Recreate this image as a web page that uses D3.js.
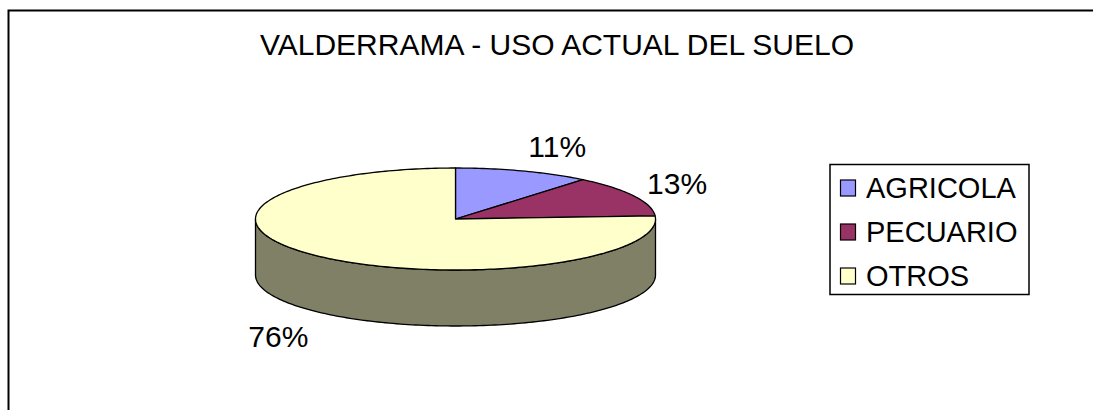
<!DOCTYPE html>
<html><head><meta charset="utf-8">
<script src="https://cdn.jsdelivr.net/npm/d3@7"></script>
<style>html,body{margin:0;padding:0;background:#fff;}svg{display:block;}</style>
</head><body>
<svg id="chart" width="1093" height="410"></svg>
<script>
const title = "VALDERRAMA - USO ACTUAL DEL SUELO";
const categories = ["AGRICOLA", "PECUARIO", "OTROS"];
const values = [11, 13, 76];
const colors = ["#9999FF", "#993366", "#FFFFCC"];
const sideColors = ["#4D4D80", "#4D1A33", "#808066"];

const svg = d3.select("#chart");
const font = "'Liberation Sans', Arial, sans-serif";

svg.append("rect").attr("x", 8.5).attr("y", 10.5).attr("width", 1100).attr("height", 420)
  .attr("fill", "#fff").attr("stroke", "#000").attr("stroke-width", 2);

svg.append("text").attr("x", 557).attr("y", 55).attr("text-anchor", "middle")
  .attr("font-family", font).attr("font-size", 30).attr("fill", "#000").text(title);

const cx = 455.5, cy = 219, rx = 200, ry = 51, depth = 56;
const pie = d3.pie().sort(null).startAngle(0).endAngle(2 * Math.PI);
const arcs = pie(values);
const px = a => cx + rx * Math.sin(a);
const py = a => cy - ry * Math.cos(a);

function topPath(a0, a1) {
  const n = Math.max(2, Math.ceil((a1 - a0) / 0.02));
  let d = `M${cx},${cy}`;
  for (let i = 0; i <= n; i++) { const a = a0 + (a1 - a0) * i / n; d += `L${px(a)},${py(a)}`; }
  return d + "Z";
}
function sidePath(a0, a1) {
  const n = Math.max(2, Math.ceil((a1 - a0) / 0.02));
  let d = "";
  for (let i = 0; i <= n; i++) { const a = a0 + (a1 - a0) * i / n; d += (i ? "L" : "M") + `${px(a)},${py(a)}`; }
  for (let i = n; i >= 0; i--) { const a = a0 + (a1 - a0) * i / n; d += `L${px(a)},${py(a) + depth}`; }
  return d + "Z";
}

const g = svg.append("g");
arcs.forEach((d, i) => {
  const a0 = Math.max(d.startAngle, Math.PI / 2), a1 = Math.min(d.endAngle, 3 * Math.PI / 2);
  if (a1 > a0) {
    g.append("path").attr("d", sidePath(a0, a1)).attr("fill", sideColors[i])
      .attr("stroke", "#000").attr("stroke-width", 1.3).attr("stroke-linejoin", "round");
  }
});
arcs.forEach((d, i) => {
  g.append("path").attr("d", topPath(d.startAngle, d.endAngle)).attr("fill", colors[i])
    .attr("stroke", "#000").attr("stroke-width", 1.3).attr("stroke-linejoin", "round");
});

// percentage labels
const total = d3.sum(values);
const fmt = v => Math.round(v / total * 100) + "%";
const gap = 15, capH = 20;
arcs.forEach((d, i) => {
  const m = (d.startAngle + d.endAngle) / 2;
  const s = Math.sin(m), c = Math.cos(m);
  let x = px(m), y = py(m);
  if (m > Math.PI / 2 && m < 3 * Math.PI / 2) y += depth;
  x += gap * s; y -= gap * c;
  const anchor = s > 0.1 ? "start" : (s < -0.1 ? "end" : "middle");
  const yc = y - c * capH / 2 + (c < 0 ? 7 : 0);
  svg.append("text").attr("x", x).attr("y", yc + capH / 2).attr("text-anchor", anchor)
    .attr("font-family", font).attr("font-size", 30).attr("fill", "#000").text(fmt(d.value));
});

// legend
const lg = svg.append("g");
lg.append("rect").attr("x", 830).attr("y", 164.5).attr("width", 199).attr("height", 130)
  .attr("fill", "#fff").attr("stroke", "#000").attr("stroke-width", 1.5);
const ly = d3.scalePoint().domain(categories).range([188, 276]);
categories.forEach((c, i) => {
  lg.append("rect").attr("x", 840.5).attr("y", ly(c) - 8).attr("width", 15).attr("height", 16)
    .attr("fill", colors[i]).attr("stroke", "#000").attr("stroke-width", 1.2);
  lg.append("text").attr("x", 866).attr("y", ly(c) + 10).attr("font-family", font)
    .attr("font-size", 29).attr("fill", "#000").text(c);
});
</script>
</body></html>
